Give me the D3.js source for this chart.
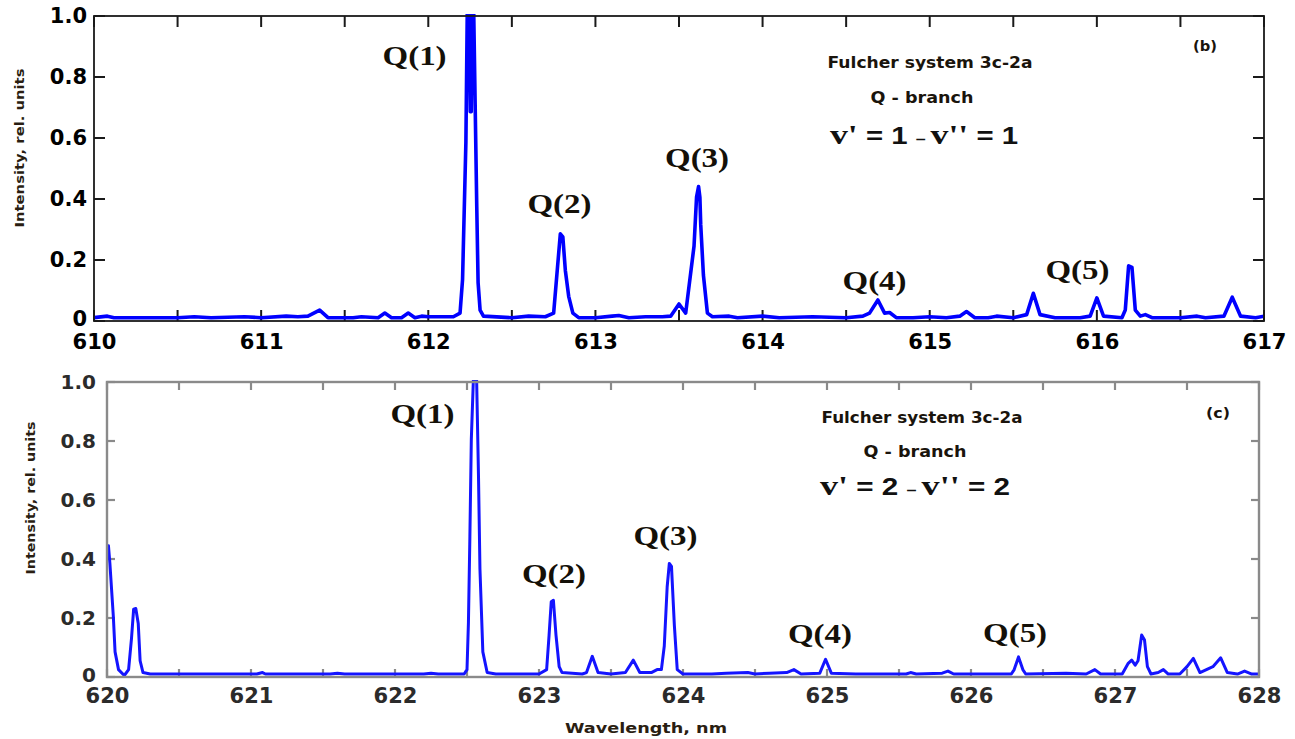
<!DOCTYPE html>
<html>
<head>
<meta charset="utf-8">
<script src="https://cdn.jsdelivr.net/npm/d3@7"></script>
<style>
  body { margin: 0; background: #fff; }
  svg { display: block; }
</style>
</head>
<body>
<svg id="chart" width="1295" height="739"></svg>
<script>
// spectrum (b): v'=1 - v''=1, [wavelength nm, intensity]
const spectrumB = [
  [610.00,0.005],[610.08,0.01],[610.12,0.005],[610.50,0.005],[610.60,0.008],[610.70,0.005],
  [610.90,0.008],[611.00,0.005],[611.15,0.01],[611.22,0.008],[611.28,0.01],[611.35,0.03],
  [611.40,0.005],[611.55,0.005],[611.60,0.008],[611.70,0.005],[611.74,0.02],[611.78,0.005],
  [611.84,0.005],[611.88,0.02],[611.92,0.005],[611.96,0.01],[612.00,0.008],[612.15,0.008],
  [612.19,0.02],[612.205,0.13],[612.225,0.58],[612.233,1.0],[612.245,1.0],[612.251,0.68],
  [612.257,0.68],[612.262,1.0],[612.272,1.0],[612.29,0.37],[612.298,0.12],[612.31,0.03],
  [612.33,0.01],[612.50,0.005],[612.60,0.01],[612.70,0.008],[612.75,0.02],[612.77,0.15],
  [612.79,0.28],[612.805,0.27],[612.82,0.16],[612.84,0.075],[612.865,0.02],[612.90,0.005],
  [613.00,0.005],[613.10,0.01],[613.14,0.012],[613.20,0.005],[613.30,0.008],[613.40,0.008],
  [613.45,0.01],[613.50,0.05],[613.54,0.02],[613.59,0.24],[613.605,0.4],[613.617,0.435],
  [613.625,0.4],[613.63,0.31],[613.646,0.145],[613.67,0.02],[613.70,0.008],[613.80,0.01],
  [613.85,0.005],[614.00,0.01],[614.10,0.005],[614.30,0.008],[614.50,0.005],[614.60,0.01],
  [614.64,0.02],[614.69,0.063],[614.73,0.02],[614.76,0.022],[614.80,0.005],[614.90,0.005],
  [615.00,0.008],[615.10,0.005],[615.18,0.01],[615.22,0.025],[615.27,0.005],[615.35,0.005],
  [615.40,0.01],[615.50,0.005],[615.58,0.015],[615.62,0.085],[615.66,0.015],[615.75,0.005],
  [615.90,0.005],[615.96,0.01],[616.00,0.07],[616.04,0.01],[616.15,0.005],[616.17,0.03],
  [616.19,0.175],[616.21,0.17],[616.23,0.03],[616.26,0.01],[616.29,0.015],[616.33,0.005],
  [616.50,0.005],[616.60,0.01],[616.65,0.005],[616.76,0.01],[616.81,0.072],[616.86,0.01],
  [616.95,0.005],[617.00,0.01]
];

// spectrum (c): v'=2 - v''=2
const spectrumC = [
  [620.00,0.44],[620.01,0.44],[620.02,0.38],[620.044,0.2],[620.056,0.08],[620.08,0.02],
  [620.12,0.0],[620.15,0.02],[620.17,0.125],[620.185,0.225],[620.20,0.227],[620.217,0.176],
  [620.23,0.05],[620.25,0.01],[620.30,0.005],[621.04,0.005],[621.08,0.01],[621.10,0.005],
  [621.50,0.005],[621.55,0.005],[621.60,0.008],[621.65,0.005],[622.20,0.005],[622.25,0.008],
  [622.30,0.005],[622.48,0.005],[622.50,0.02],[622.51,0.18],[622.52,0.47],[622.53,0.8],
  [622.544,1.0],[622.567,1.0],[622.58,0.67],[622.59,0.36],[622.61,0.08],[622.64,0.01],
  [622.70,0.005],[623.00,0.005],[623.053,0.02],[623.07,0.137],[623.085,0.25],[623.10,0.255],
  [623.118,0.137],[623.14,0.03],[623.16,0.01],[623.30,0.005],[623.33,0.01],[623.37,0.065],
  [623.41,0.01],[623.50,0.005],[623.60,0.01],[623.655,0.052],[623.70,0.01],[623.78,0.01],
  [623.82,0.02],[623.85,0.02],[623.87,0.1],[623.89,0.3],[623.905,0.38],[623.92,0.37],
  [623.94,0.17],[623.96,0.02],[624.00,0.005],[624.20,0.005],[624.30,0.008],[624.45,0.01],
  [624.50,0.005],[624.60,0.008],[624.72,0.01],[624.77,0.02],[624.82,0.005],[624.95,0.008],
  [624.99,0.055],[625.03,0.008],[625.20,0.005],[625.55,0.005],[625.58,0.01],[625.62,0.005],
  [625.80,0.008],[625.84,0.015],[625.88,0.005],[626.28,0.005],[626.30,0.02],[626.33,0.063],
  [626.36,0.02],[626.38,0.005],[626.66,0.008],[626.80,0.005],[626.86,0.02],[626.90,0.005],
  [627.05,0.005],[627.09,0.04],[627.116,0.052],[627.14,0.035],[627.16,0.05],[627.185,0.137],
  [627.205,0.12],[627.225,0.03],[627.25,0.005],[627.30,0.01],[627.336,0.02],[627.37,0.005],
  [627.45,0.005],[627.50,0.03],[627.544,0.058],[627.59,0.01],[627.68,0.03],[627.734,0.06],
  [627.78,0.01],[627.85,0.005],[627.90,0.015],[627.95,0.005],[628.00,0.005]
];

const xLabelsB = [610, 611, 612, 613, 614, 615, 616, 617];
const xLabelsC = [620, 621, 622, 623, 624, 625, 626, 627, 628];
const yTicks = [0, 0.2, 0.4, 0.6, 0.8, 1.0];
const lineNames = ["Q(1)", "Q(2)", "Q(3)", "Q(4)", "Q(5)"];
// label anchors in data units (wavelength, intensity)
const lineSpotsB = [[611.918, 0.839], [612.785, 0.354], [613.608, 0.505], [614.67, 0.102], [615.884, 0.138]];
const lineSpotsC = [[622.191, 0.861], [623.104, 0.319], [623.878, 0.447], [624.951, 0.115], [626.306, 0.119]];

const svg = d3.select("#chart");

function panel(cfg) {
  const { l, t, r, b } = cfg.box;
  const x = d3.scaleLinear().domain(d3.extent(cfg.xLabels)).range([l, r]);
  const y = d3.scaleLinear().domain([0, 1]).range([b, t]);
  const g = svg.append("g");
  const minor = x.ticks((cfg.xLabels.length - 1) * 2);

  const style = sel => {
    sel.select(".domain").remove();
    sel.selectAll(".tick line").remove();
    sel.selectAll(".tick text")
      .attr("fill", cfg.textColor)
      .style("font-family", "'DejaVu Sans', sans-serif")
      .style("font-weight", "bold");
  };

  // tick labels
  g.append("g").attr("transform", `translate(0,${b})`)
    .call(d3.axisBottom(x).tickValues(cfg.xLabels).tickSize(0).tickPadding(cfg.xPad).tickFormat(d => d))
    .call(style)
    .selectAll(".tick text").style("font-size", cfg.xFont + "px");
  g.append("g").attr("transform", `translate(${l},0)`)
    .call(d3.axisLeft(y).tickValues(yTicks).tickSize(0).tickPadding(cfg.yPad)
      .tickFormat(d => d === 0 ? "0" : d3.format(".1f")(d)))
    .call(style)
    .selectAll(".tick text").style("font-size", cfg.yFont + "px")
    .attr("dy", d => d === 0 ? "0.2em" : "0.32em");

  // inward tick marks on all four sides
  const tk = g.append("g").attr("stroke", cfg.axisColor).attr("stroke-width", cfg.tickWidth);
  tk.selectAll("line.xb").data(minor).join("line").attr("class", "xb")
    .attr("x1", d => x(d)).attr("x2", d => x(d)).attr("y1", b).attr("y2", b - cfg.tick);
  tk.selectAll("line.xt").data(minor).join("line").attr("class", "xt")
    .attr("x1", d => x(d)).attr("x2", d => x(d)).attr("y1", t).attr("y2", t + cfg.tick);
  tk.selectAll("line.yl").data(yTicks).join("line").attr("class", "yl")
    .attr("x1", l).attr("x2", l + cfg.tick).attr("y1", d => y(d)).attr("y2", d => y(d));
  tk.selectAll("line.yr").data(yTicks).join("line").attr("class", "yr")
    .attr("x1", r).attr("x2", r - cfg.tick).attr("y1", d => y(d)).attr("y2", d => y(d));

  const clipId = "clip" + cfg.tag;
  svg.append("clipPath").attr("id", clipId)
    .append("rect").attr("x", l).attr("y", t - 2).attr("width", r - l).attr("height", b - t + 2);

  g.append("path")
    .datum(cfg.data)
    .attr("clip-path", `url(#${clipId})`)
    .attr("fill", "none")
    .attr("stroke", cfg.lineColor)
    .attr("stroke-width", cfg.lineWidth)
    .attr("stroke-linejoin", "round")
    .attr("d", d3.line().x(d => x(d[0])).y(d => y(d[1]) - cfg.lineWidth / 2));

  g.append("rect")
    .attr("x", l).attr("y", t).attr("width", r - l).attr("height", b - t)
    .attr("fill", "none").attr("stroke", cfg.axisColor).attr("stroke-width", cfg.frameWidth);

  // Q labels
  g.selectAll("text.q").data(lineNames).join("text")
    .attr("class", "q")
    .attr("x", (d, i) => x(cfg.spots[i][0]))
    .attr("y", (d, i) => y(cfg.spots[i][1]))
    .attr("text-anchor", "middle")
    .attr("textLength", 64).attr("lengthAdjust", "spacingAndGlyphs")
    .style("font-family", "'Liberation Serif', 'Times New Roman', serif")
    .style("font-weight", "bold").style("font-size", "27px")
    .attr("fill", "#141008")
    .text(d => d);

  const sans = "'DejaVu Sans', sans-serif";
  const note = (txt, px, py, size, len) => g.append("text")
    .attr("x", px).attr("y", py).attr("text-anchor", "middle")
    .attr("textLength", len).attr("lengthAdjust", "spacingAndGlyphs")
    .style("font-family", sans).style("font-weight", "bold").style("font-size", size + "px")
    .attr("fill", "#1a140c").text(txt);

  const n = cfg.notes;
  note("Fulcher system 3c-2a", n.cx, n.y1, 15, n.w1);
  note("Q - branch", n.cx2, n.y2, 15, 103);
  note(cfg.panelTag, n.tagX, n.tagY, 14, 24);

  const v = g.append("text")
    .attr("x", n.vx).attr("y", n.y3)
    .attr("textLength", n.w3).attr("lengthAdjust", "spacingAndGlyphs")
    .attr("fill", "#111").style("font-weight", "bold");
  const serif = "'Liberation Serif', serif";
  const parts = [
    ["v'", serif, 28], [" = " + cfg.level + "  ", "'Liberation Sans', sans-serif", 23],
    ["\u2013 ", "'Liberation Sans', sans-serif", 14], ["v''", serif, 28],
    [" = " + cfg.level, "'Liberation Sans', sans-serif", 23]
  ];
  parts.forEach(p => v.append("tspan").style("font-family", p[1]).style("font-size", p[2] + "px").text(p[0]));

  // y label
  g.append("text")
    .attr("transform", `translate(${cfg.yLab.x},${cfg.yLab.y}) rotate(-90)`)
    .attr("text-anchor", "middle")
    .attr("textLength", cfg.yLab.len).attr("lengthAdjust", "spacingAndGlyphs")
    .style("font-family", sans).style("font-weight", "bold").style("font-size", "13px")
    .attr("fill", "#2a1e12")
    .text("Intensity, rel. units");

  return { x, y, g };
}

panel({
  tag: "b", panelTag: "(b)", level: "1",
  data: spectrumB, xLabels: xLabelsB, spots: lineSpotsB,
  box: { l: 94, t: 16, r: 1264, b: 321 },
  tick: 11, xPad: 13, yPad: 7, xFont: 21, yFont: 21,
  axisColor: "#1a1a1a", textColor: "#000", tickWidth: 2, frameWidth: 1.8,
  lineColor: "#0000ff", lineWidth: 3.6,
  notes: { cx: 930, y1: 68, cx2: 922, y2: 103, tagX: 1205, tagY: 51, vx: 830, y3: 144, w1: 205, w3: 188 },
  yLab: { x: 24, y: 148, len: 159 }
});

const c = panel({
  tag: "c", panelTag: "(c)", level: "2",
  data: spectrumC, xLabels: xLabelsC, spots: lineSpotsC,
  box: { l: 107, t: 382, r: 1259, b: 677 },
  tick: 8, xPad: 11, yPad: 11, xFont: 21, yFont: 20,
  axisColor: "#8a8a8a", textColor: "#2b2b2b", tickWidth: 2.2, frameWidth: 2.4,
  lineColor: "#1414ff", lineWidth: 3,
  notes: { cx: 922, y1: 423, cx2: 915, y2: 457, tagX: 1218, tagY: 418, vx: 820, y3: 495, w1: 201, w3: 190 },
  yLab: { x: 35, y: 498, len: 153 }
});

c.g.append("text")
  .attr("x", 646).attr("y", 733).attr("text-anchor", "middle")
  .attr("textLength", 162).attr("lengthAdjust", "spacingAndGlyphs")
  .style("font-family", "'DejaVu Sans', sans-serif").style("font-weight", "bold").style("font-size", "14px")
  .attr("fill", "#2a1e12")
  .text("Wavelength, nm");
</script>
</body>
</html>
